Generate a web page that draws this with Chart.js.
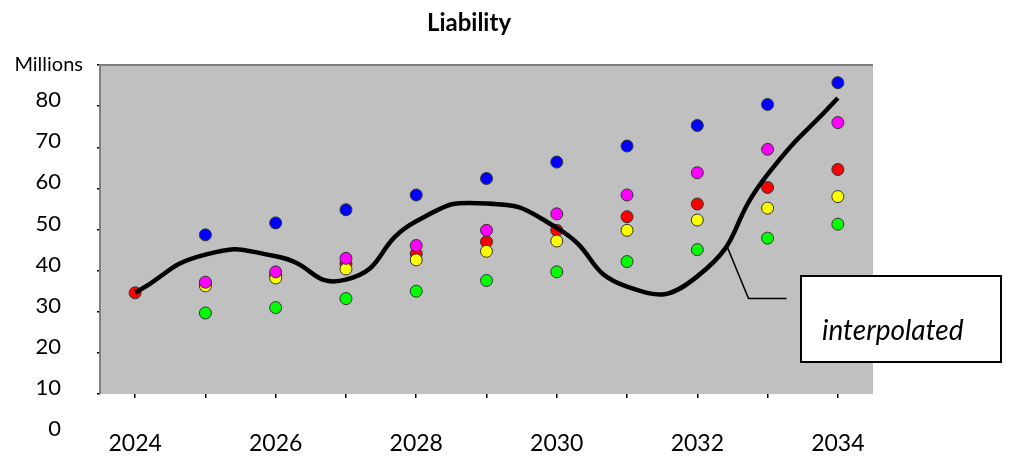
<!DOCTYPE html>
<html>
<head>
<meta charset="utf-8">
<script src="https://cdn.jsdelivr.net/npm/chart.js@4.4.0/dist/chart.umd.min.js"></script>
<style>
  html, body { margin: 0; padding: 0; background: #fff; }
  #wrap { width: 1010px; height: 457px; }
</style>
</head>
<body>
<div id="wrap"><canvas id="liabilityChart"></canvas></div>
<script>
const years = ['2024', '2025', '2026', '2027', '2028', '2029', '2030', '2031', '2032', '2033', '2034'];
const blueValues    = [null, 48.7, 51.6, 54.8, 58.4, 62.4, 66.4, 70.3, 75.3, 80.4, 85.7];
const magentaValues = [null, 37.2, 39.7, 43.0, 46.1, 49.8, 53.8, 58.4, 63.8, 69.5, 76.0];
const redValues     = [34.6, 36.8, 39.0, 41.7, 44.1, 47.0, 49.8, 53.1, 56.2, 60.2, 64.6];
const yellowValues  = [null, 36.3, 38.2, 40.4, 42.6, 44.7, 47.2, 49.8, 52.3, 55.2, 58.0];
const greenValues   = [null, 29.7, 31.0, 33.2, 35.0, 37.6, 39.7, 42.2, 45.1, 47.9, 51.3];
const interpolatedValues = [34.6, 43.9, 43.5, 37.8, 52.0, 56.3, 50.4, 36.1, 38.6, 63.4, 82.0];
const yMin = 10;
const yMax = 90;
const yStep = 10;

const FONT = 'Lato, "Open Sans", sans-serif';

function dots(label, data, color, order) {
    return {
        label: label,
        data: data,
        showLine: false,
        order: order,
        pointRadius: 6,
        pointBorderWidth: 1,
        pointBorderColor: '#333',
        pointBackgroundColor: color,
        backgroundColor: color,
        borderColor: color
    };
}

// grey plot area, title, extra axis texts and the callout
const decorations = {
    id: 'decorations',
    beforeDatasetsDraw(chart) {
        const { ctx, chartArea: a } = chart;
        ctx.save();
        ctx.fillStyle = '#C0C0C0';
        ctx.fillRect(a.left, a.top, a.right - a.left, a.bottom - a.top);
        ctx.strokeStyle = '#808080';
        ctx.lineWidth = 2;
        ctx.beginPath();
        ctx.moveTo(a.left, a.bottom);
        ctx.lineTo(a.left, a.top);
        ctx.lineTo(a.right, a.top);
        ctx.stroke();
        ctx.restore();
    },
    afterDraw(chart) {
        const { ctx, chartArea: a, scales } = chart;
        const y = scales.y, x = scales.x;
        ctx.save();
        ctx.fillStyle = '#000';
        ctx.textBaseline = 'middle';

        ctx.font = 'bold 24px ' + FONT;
        ctx.textAlign = 'center';
        ctx.fillText('Liability', 469, 23);

        ctx.font = '20px ' + FONT;
        ctx.textAlign = 'right';
        ctx.fillText('Millions', 83, y.getPixelForValue(yMax));

        ctx.font = '22px ' + FONT;
        ctx.fillText('0', 61, y.getPixelForValue(0) - 6);

        // leader line from the curve to the label box
        const step = x.getPixelForValue(1) - x.getPixelForValue(0);
        const x0 = x.getPixelForValue(8) + step * 0.43;
        ctx.strokeStyle = '#000';
        ctx.lineWidth = 1.5;
        ctx.beginPath();
        ctx.moveTo(x0, y.getPixelForValue(45.6));
        ctx.lineTo(x0 + 21, y.getPixelForValue(33.2));
        ctx.lineTo(x0 + 59, y.getPixelForValue(33.2));
        ctx.stroke();

        const bx = a.right - 72, by = 276, bw = 200, bh = 86;
        ctx.fillStyle = '#fff';
        ctx.fillRect(bx, by, bw, bh);
        ctx.lineWidth = 2;
        ctx.strokeRect(bx, by, bw, bh);
        ctx.fillStyle = '#000';
        ctx.font = 'italic 28px ' + FONT;
        ctx.textAlign = 'left';
        ctx.fillText('interpolated', bx + 21, by + 55);
        ctx.restore();
    }
};

const chart = new Chart(document.getElementById('liabilityChart'), {
    type: 'line',
    data: {
        labels: years,
        datasets: [
            {
                label: 'interpolated',
                data: interpolatedValues,
                order: 3,
                borderColor: '#000',
                borderWidth: 4.5,
                pointRadius: 0,
                tension: 0.55,
                fill: false
            },
            dots('Magenta', magentaValues, '#FF00FF', 1),
            dots('Yellow', yellowValues, '#FFFF00', 2),
            dots('Red', redValues, '#FF0000', 4),
            dots('Blue', blueValues, '#0000FF', 5),
            dots('Green', greenValues, '#00FF00', 6)
        ]
    },
    options: {
        responsive: true,
        maintainAspectRatio: false,
        animation: false,
        layout: { padding: { top: 65, right: 137, left: 0, bottom: 0 } },
        plugins: {
            legend: { display: false },
            tooltip: { enabled: false },
            title: { display: false }
        },
        scales: {
            x: {
                type: 'category',
                offset: true,
                afterFit: s => { s.height = 63; },
                border: { display: false },
                grid: { drawOnChartArea: false, drawTicks: true, tickLength: 4, color: '#000', lineWidth: 1.5 },
                ticks: {
                    autoSkip: false,
                    maxRotation: 0,
                    padding: 32,
                    color: '#000',
                    font: { family: FONT, size: 23 },
                    callback: (v, i) => (i % 2 === 0 ? years[i] : '')
                }
            },
            y: {
                min: yMin,
                max: yMax,
                afterFit: s => { s.width = 100; },
                border: { display: false },
                grid: { drawOnChartArea: false, drawTicks: true, tickLength: 3, color: '#000', lineWidth: 1.5 },
                ticks: {
                    stepSize: yStep,
                    padding: 36,
                    labelOffset: -6,
                    color: '#000',
                    font: { family: FONT, size: 22 },
                    callback: v => (v === yMax ? '' : v)
                }
            }
        }
    },
    plugins: [decorations]
});
</script>
</body>
</html>
